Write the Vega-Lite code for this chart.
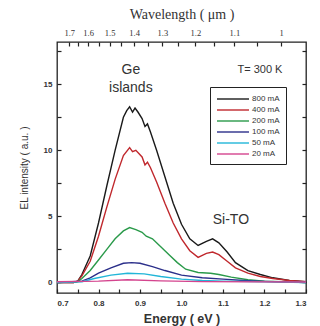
{
  "$schema": "https://vega.github.io/schema/vega-lite/v6.json",
  "width": 249,
  "height": 251,
  "autosize": {"type": "none"},
  "padding": {"left": 57, "top": 42, "right": 14, "bottom": 33},
  "background": "white",
  "config": {
    "view": {"stroke": "#222", "strokeWidth": 1.3},
    "axis": {"domain": false, "tickColor": "#222", "tickWidth": 1.2, "labelColor": "#333", "titleColor": "#333", "grid": false, "zindex": 1}
  },
  "datasets": {
    "curves": [
      {"E": 0.70, "I": 0, "current": "800 mA"},
      {"E": 0.74, "I": 0, "current": "800 mA"},
      {"E": 0.75, "I": 0.1, "current": "800 mA"},
      {"E": 0.76, "I": 0.6, "current": "800 mA"},
      {"E": 0.78, "I": 2.0, "current": "800 mA"},
      {"E": 0.80, "I": 4.5, "current": "800 mA"},
      {"E": 0.82, "I": 7.3, "current": "800 mA"},
      {"E": 0.84, "I": 10.0, "current": "800 mA"},
      {"E": 0.86, "I": 12.5, "current": "800 mA"},
      {"E": 0.868, "I": 13.0, "current": "800 mA"},
      {"E": 0.875, "I": 13.3, "current": "800 mA"},
      {"E": 0.882, "I": 12.9, "current": "800 mA"},
      {"E": 0.888, "I": 13.2, "current": "800 mA"},
      {"E": 0.895, "I": 12.9, "current": "800 mA"},
      {"E": 0.905, "I": 12.4, "current": "800 mA"},
      {"E": 0.912, "I": 11.8, "current": "800 mA"},
      {"E": 0.918, "I": 12.0, "current": "800 mA"},
      {"E": 0.925, "I": 11.4, "current": "800 mA"},
      {"E": 0.94, "I": 10.0, "current": "800 mA"},
      {"E": 0.96, "I": 8.0, "current": "800 mA"},
      {"E": 0.98, "I": 6.0, "current": "800 mA"},
      {"E": 1.00, "I": 4.4, "current": "800 mA"},
      {"E": 1.02, "I": 3.3, "current": "800 mA"},
      {"E": 1.04, "I": 2.8, "current": "800 mA"},
      {"E": 1.06, "I": 3.1, "current": "800 mA"},
      {"E": 1.075, "I": 3.3, "current": "800 mA"},
      {"E": 1.09, "I": 3.0, "current": "800 mA"},
      {"E": 1.11, "I": 2.3, "current": "800 mA"},
      {"E": 1.13, "I": 1.5, "current": "800 mA"},
      {"E": 1.16, "I": 0.9, "current": "800 mA"},
      {"E": 1.19, "I": 0.6, "current": "800 mA"},
      {"E": 1.22, "I": 0.35, "current": "800 mA"},
      {"E": 1.26, "I": 0.15, "current": "800 mA"},
      {"E": 1.30, "I": 0.05, "current": "800 mA"},

      {"E": 0.70, "I": 0, "current": "400 mA"},
      {"E": 0.74, "I": 0, "current": "400 mA"},
      {"E": 0.75, "I": 0.1, "current": "400 mA"},
      {"E": 0.76, "I": 0.5, "current": "400 mA"},
      {"E": 0.78, "I": 1.6, "current": "400 mA"},
      {"E": 0.80, "I": 3.5, "current": "400 mA"},
      {"E": 0.82, "I": 5.7, "current": "400 mA"},
      {"E": 0.84, "I": 7.8, "current": "400 mA"},
      {"E": 0.86, "I": 9.6, "current": "400 mA"},
      {"E": 0.875, "I": 10.2, "current": "400 mA"},
      {"E": 0.882, "I": 9.9, "current": "400 mA"},
      {"E": 0.89, "I": 10.0, "current": "400 mA"},
      {"E": 0.905, "I": 9.5, "current": "400 mA"},
      {"E": 0.912, "I": 8.9, "current": "400 mA"},
      {"E": 0.918, "I": 9.1, "current": "400 mA"},
      {"E": 0.925, "I": 8.7, "current": "400 mA"},
      {"E": 0.94, "I": 7.6, "current": "400 mA"},
      {"E": 0.96, "I": 6.0, "current": "400 mA"},
      {"E": 0.98, "I": 4.5, "current": "400 mA"},
      {"E": 1.00, "I": 3.3, "current": "400 mA"},
      {"E": 1.02, "I": 2.4, "current": "400 mA"},
      {"E": 1.04, "I": 1.9, "current": "400 mA"},
      {"E": 1.06, "I": 2.2, "current": "400 mA"},
      {"E": 1.075, "I": 2.3, "current": "400 mA"},
      {"E": 1.09, "I": 2.1, "current": "400 mA"},
      {"E": 1.11, "I": 1.6, "current": "400 mA"},
      {"E": 1.13, "I": 1.1, "current": "400 mA"},
      {"E": 1.16, "I": 0.7, "current": "400 mA"},
      {"E": 1.19, "I": 0.45, "current": "400 mA"},
      {"E": 1.22, "I": 0.3, "current": "400 mA"},
      {"E": 1.26, "I": 0.15, "current": "400 mA"},
      {"E": 1.30, "I": 0.05, "current": "400 mA"},

      {"E": 0.70, "I": 0, "current": "200 mA"},
      {"E": 0.75, "I": 0.05, "current": "200 mA"},
      {"E": 0.76, "I": 0.3, "current": "200 mA"},
      {"E": 0.78, "I": 0.9, "current": "200 mA"},
      {"E": 0.80, "I": 1.7, "current": "200 mA"},
      {"E": 0.82, "I": 2.5, "current": "200 mA"},
      {"E": 0.84, "I": 3.3, "current": "200 mA"},
      {"E": 0.86, "I": 3.9, "current": "200 mA"},
      {"E": 0.875, "I": 4.15, "current": "200 mA"},
      {"E": 0.89, "I": 4.0, "current": "200 mA"},
      {"E": 0.905, "I": 3.8, "current": "200 mA"},
      {"E": 0.915, "I": 3.5, "current": "200 mA"},
      {"E": 0.93, "I": 3.3, "current": "200 mA"},
      {"E": 0.95, "I": 2.7, "current": "200 mA"},
      {"E": 0.97, "I": 2.1, "current": "200 mA"},
      {"E": 0.99, "I": 1.5, "current": "200 mA"},
      {"E": 1.01, "I": 1.0, "current": "200 mA"},
      {"E": 1.04, "I": 0.75, "current": "200 mA"},
      {"E": 1.07, "I": 0.7, "current": "200 mA"},
      {"E": 1.09, "I": 0.6, "current": "200 mA"},
      {"E": 1.12, "I": 0.4, "current": "200 mA"},
      {"E": 1.16, "I": 0.2, "current": "200 mA"},
      {"E": 1.20, "I": 0.1, "current": "200 mA"},
      {"E": 1.30, "I": 0.0, "current": "200 mA"},

      {"E": 0.70, "I": 0, "current": "100 mA"},
      {"E": 0.76, "I": 0.1, "current": "100 mA"},
      {"E": 0.78, "I": 0.35, "current": "100 mA"},
      {"E": 0.80, "I": 0.7, "current": "100 mA"},
      {"E": 0.83, "I": 1.1, "current": "100 mA"},
      {"E": 0.86, "I": 1.45, "current": "100 mA"},
      {"E": 0.88, "I": 1.5, "current": "100 mA"},
      {"E": 0.90, "I": 1.45, "current": "100 mA"},
      {"E": 0.93, "I": 1.2, "current": "100 mA"},
      {"E": 0.96, "I": 0.9, "current": "100 mA"},
      {"E": 1.00, "I": 0.55, "current": "100 mA"},
      {"E": 1.05, "I": 0.35, "current": "100 mA"},
      {"E": 1.10, "I": 0.25, "current": "100 mA"},
      {"E": 1.15, "I": 0.15, "current": "100 mA"},
      {"E": 1.20, "I": 0.08, "current": "100 mA"},
      {"E": 1.30, "I": 0.0, "current": "100 mA"},

      {"E": 0.70, "I": 0, "current": "50 mA"},
      {"E": 0.76, "I": 0.05, "current": "50 mA"},
      {"E": 0.79, "I": 0.3, "current": "50 mA"},
      {"E": 0.83, "I": 0.55, "current": "50 mA"},
      {"E": 0.87, "I": 0.7, "current": "50 mA"},
      {"E": 0.91, "I": 0.65, "current": "50 mA"},
      {"E": 0.95, "I": 0.45, "current": "50 mA"},
      {"E": 1.00, "I": 0.25, "current": "50 mA"},
      {"E": 1.05, "I": 0.15, "current": "50 mA"},
      {"E": 1.10, "I": 0.1, "current": "50 mA"},
      {"E": 1.20, "I": 0.05, "current": "50 mA"},
      {"E": 1.30, "I": 0.0, "current": "50 mA"},

      {"E": 0.70, "I": 0.05, "current": "20 mA"},
      {"E": 0.80, "I": 0.1, "current": "20 mA"},
      {"E": 0.87, "I": 0.2, "current": "20 mA"},
      {"E": 0.95, "I": 0.12, "current": "20 mA"},
      {"E": 1.05, "I": 0.06, "current": "20 mA"},
      {"E": 1.30, "I": 0.03, "current": "20 mA"}
    ],
    "labels": [
      {"E": 0.878, "I": 16.1, "label": "Ge", "size": 14},
      {"E": 0.878, "I": 14.7, "label": "islands", "size": 14},
      {"E": 1.189, "I": 16.05, "label": "T= 300 K", "size": 11},
      {"E": 1.119, "I": 4.7, "label": "Si-TO", "size": 14}
    ]
  },
  "layer": [
    {
      "data": {"name": "curves"},
      "mark": {"type": "line", "strokeWidth": 1.4},
      "encoding": {
        "x": {
          "field": "E", "type": "quantitative",
          "scale": {"domain": [0.7, 1.3], "nice": false, "zero": false},
          "axis": {
            "title": "Energy ( eV )",
            "titleFont": "Liberation Sans", "titleFontSize": 12.5, "titleFontWeight": "bold", "titlePadding": 5,
            "values": [0.7, 0.75, 0.8, 0.85, 0.9, 0.95, 1.0, 1.05, 1.1, 1.15, 1.2, 1.25, 1.3],
            "labelExpr": "abs(round(datum.value*10) - datum.value*10) < 0.01 ? format(datum.value, '.1f') : ''",
            "labelFont": "Liberation Sans", "labelFontSize": 8, "labelFontWeight": "bold",
            "tickSize": 4, "offset": -4, "labelPadding": 6
          }
        },
        "y": {
          "field": "I", "type": "quantitative",
          "scale": {"domain": [-0.8, 18.2], "nice": false, "zero": false},
          "axis": {
            "title": "EL intensity ( a.u. )",
            "titleFont": "Liberation Sans", "titleFontSize": 10, "titleFontWeight": "normal", "titlePadding": 14,
            "values": [0, 2.5, 5, 7.5, 10, 12.5, 15, 17.5],
            "labelExpr": "datum.value % 5 == 0 ? format(datum.value, 'd') : ''",
            "labelFont": "Liberation Sans", "labelFontSize": 8, "labelFontWeight": "bold",
            "tickSize": 4, "offset": -4, "labelPadding": 5
          }
        },
        "color": {
          "field": "current", "type": "nominal",
          "scale": {
            "domain": ["800 mA", "400 mA", "200 mA", "100 mA", "50 mA", "20 mA"],
            "range": ["#1a1a1a", "#c0282d", "#2a9a4a", "#2b2f8a", "#22b6d8", "#d4448e"]
          },
          "legend": {
            "title": null, "orient": "none", "legendX": 153, "legendY": 45,
            "symbolType": "M-1,0H5.4", "symbolSize": 100, "symbolStrokeWidth": 1.4,
            "labelFont": "Liberation Sans", "labelFontSize": 8, "labelColor": "#333", "labelOffset": 24,
            "strokeColor": "#222", "padding": 6, "rowPadding": 1, "fillColor": "white"
          }
        }
      }
    },
    {
      "data": {"name": "labels"},
      "mark": {"type": "text", "font": "Liberation Sans", "color": "#333"},
      "encoding": {
        "x": {
          "field": "E", "type": "quantitative",
          "scale": {"domain": [0.7, 1.3], "nice": false, "zero": false},
          "axis": {
            "orient": "top",
            "title": "Wavelength ( μm )",
            "titleFont": "Liberation Serif", "titleFontSize": 14, "titleFontWeight": "normal", "titlePadding": 7,
            "values": [0.72941, 0.75152, 0.775, 0.8, 0.82667, 0.85517, 0.88571, 0.91852, 0.95385, 0.992, 1.03333, 1.07826, 1.12727, 1.18095, 1.24],
            "labelExpr": "abs(round(124/datum.value) % 10) == 0 ? format(round(12.4/datum.value)/10, '') : ''",
            "labelFont": "Liberation Serif", "labelFontSize": 8.5,
            "tickSize": 4, "offset": -4, "labelPadding": 5
          }
        },
        "y": {
          "field": "I", "type": "quantitative",
          "scale": {"domain": [-0.8, 18.2], "nice": false, "zero": false},
          "axis": {
            "orient": "right", "title": null, "labels": false,
            "values": [0, 2.5, 5, 7.5, 10, 12.5, 15, 17.5],
            "tickSize": 4, "offset": -4
          }
        },
        "text": {"field": "label"},
        "size": {"field": "size", "type": "quantitative", "scale": null, "legend": null}
      }
    }
  ],
  "resolve": {"scale": {"x": "independent", "y": "independent", "size": "independent"}}
}
